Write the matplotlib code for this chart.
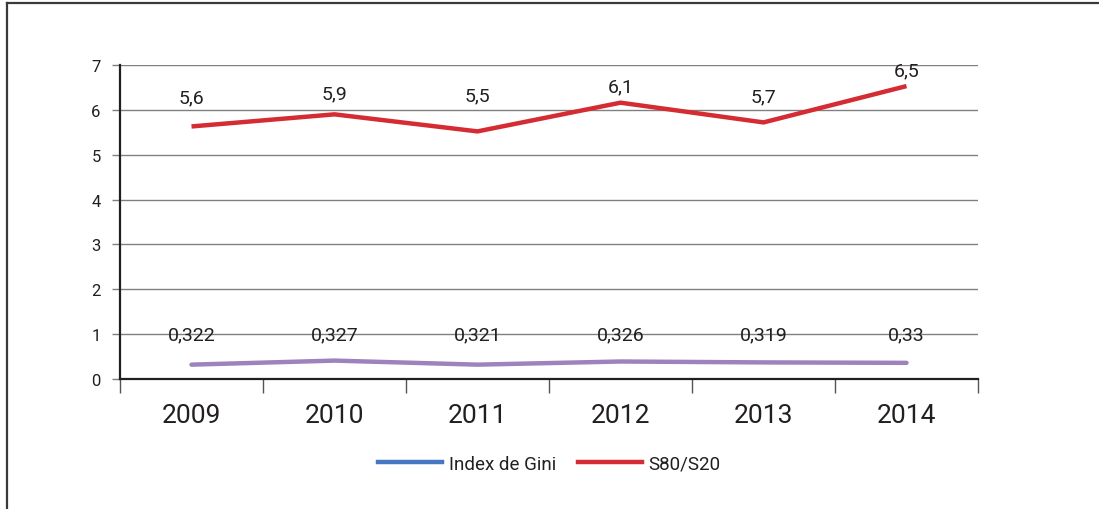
import matplotlib.pyplot as plt
import numpy as np
from matplotlib.lines import Line2D

plt.rcParams['font.family'] = ['Roboto', 'DejaVu Sans']

years = ['2009', '2010', '2011', '2012', '2013', '2014']
s80 = [5.63, 5.9, 5.52, 6.16, 5.72, 6.53]
s80_labels = ['5,6', '5,9', '5,5', '6,1', '5,7', '6,5']
gini = [0.32, 0.41, 0.32, 0.39, 0.37, 0.36]
gini_labels = ['0,322', '0,327', '0,321', '0,326', '0,319', '0,33']

red = '#D52B32'
purple = '#9E82BC'
blue = '#4677C2'
txt = '#231F20'

fig = plt.figure(figsize=(10.99, 5.10), dpi=100)
ax = fig.add_axes([120/1099, 130/510, 858/1099, 314/510])

x = np.arange(len(years))
ax.plot(x, gini, color=purple, lw=3.2, solid_capstyle='round')
ax.plot(x, s80, color=red, lw=3.2, solid_capstyle='butt')

# label offsets above the red line, in points (as placed in the original)
red_off = [21, 15, 26, 12, 19, 11.5]
for xi, v, lab, off in zip(x, s80, s80_labels, red_off):
    ax.annotate(lab, (xi, v), xytext=(0, off), textcoords='offset points',
                ha='center', va='center', fontsize=14, color=txt)
for xi, lab in zip(x, gini_labels):
    ax.text(xi, 1.0, lab, ha='center', va='center', fontsize=14, color=txt)

ax.set_xlim(-0.5, 5.5)
ax.set_ylim(0, 7)
ax.set_yticks(range(0, 8))
ax.yaxis.grid(True, color='#808080', lw=1)
ax.set_axisbelow(True)
ax.set_xticks(x)
ax.set_xticklabels(years, fontsize=19, color=txt)
ax.set_xticks(np.arange(-0.5, 6, 1), minor=True)
ax.tick_params(axis='x', which='major', length=0, pad=17)
ax.tick_params(axis='x', which='minor', length=10, width=1, color='#555555')
ax.tick_params(axis='y', length=6, width=1, color='#808080', labelsize=12,
               labelcolor=txt, pad=8)
for s in ['top', 'right']:
    ax.spines[s].set_visible(False)
ax.spines['left'].set_linewidth(1.6)
ax.spines['bottom'].set_linewidth(1.6)
ax.spines['left'].set_color('#231F20')
ax.spines['bottom'].set_color('#231F20')

handles = [Line2D([], [], color=blue, lw=3.2), Line2D([], [], color=red, lw=3.2)]
fig.legend(handles, ['Index de Gini', 'S80/S20'], loc='center',
           bbox_to_anchor=(0.5, 1 - 465/510), ncol=2, frameon=False,
           fontsize=13.5, handlelength=3.4, handletextpad=0.35, columnspacing=1.2,
           labelcolor=txt)

# frame lines (top and left only)
fig.add_artist(Line2D([7/1099, 1], [1 - 4/510, 1 - 4/510], color='#3a3a3a', lw=1.6,
                      transform=fig.transFigure))
fig.add_artist(Line2D([7/1099, 7/1099], [0, 1 - 4/510], color='#3a3a3a', lw=1.6,
                      transform=fig.transFigure))

fig.savefig('out.png', dpi=100)
